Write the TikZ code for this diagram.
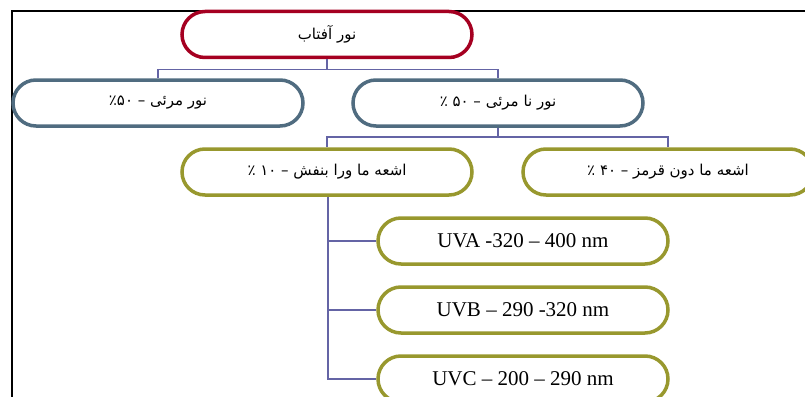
\documentclass[tikz,border=0pt]{standalone}
\usepackage{fontspec}
\setmainfont{Liberation Serif}
\newfontfamily\arabicfont[Script=Arabic]{DejaVu Sans}
\TeXXeTstate=1
\usetikzlibrary{calc}
\definecolor{sunred}{RGB}{165,0,33}
\definecolor{slate}{RGB}{80,108,128}
\definecolor{khaki}{RGB}{152,152,46}
\definecolor{linkblue}{RGB}{100,100,165}
\newcommand{\fa}[1]{\raisebox{-2pt}{\arabicfont\fontsize{15}{17}\selectfont\beginR #1\endR}}

\begin{document}
\begin{tikzpicture}[x=1pt,y=-1pt,inner sep=0pt,node distance=69pt,
  pill/.style={draw,line width=3.5pt,rounded corners=23pt,fill=white,minimum width=290pt,minimum height=46pt},
  link/.style={draw=linkblue,line width=1.5pt},
  uvtext/.style={font=\fontsize{21}{24}\selectfont}]
\useasboundingbox (0,0) rectangle (805,396);
\clip (0,0) rectangle (805,396);
\draw [line width=2pt] (12,420) -- (12,11) -- (830,11);
\draw node [pill,draw=sunred] (Sun) at (327,34.5) {\fa{نور آفتاب}};
\draw node [pill,draw=slate] (Vis) at (158,103) {\fa{نور  مرئی – ٪۵۰}};
\draw node [pill,draw=slate] (Invis) at (498,103) {\fa{نور نا مرئی – ۵۰ ٪}};
\draw node [pill,draw=khaki] (UV) at (327,172) {\fa{اشعه ما ورا بنفش – ۱۰ ٪}};
\draw node [pill,draw=khaki] (IR) at (668,172) {\fa{اشعه ما دون قرمز – ۴۰ ٪}};
\draw node [pill,draw=khaki,uvtext] (UVA) at (523,241) {UVA -320 – 400 nm};
\draw node [pill,draw=khaki,uvtext] [below of=UVA] (UVB) {UVB – 290 -320 nm};
\draw node [pill,draw=khaki,uvtext] [below of=UVB] (UVC) {UVC – 200 – 290 nm};
\draw [link] (Sun.south) -- ++(0,10) -| (Vis.north);
\draw [link] (Sun.south) -- ++(0,10) -| (Invis.north);
\draw [link] (Invis.south) -- ++(0,9) -| (UV.north);
\draw [link] (Invis.south) -- ++(0,9) -| (IR.north);
\draw [link] ($(UV.south)+(1,0)$) |- (UVA.west);
\draw [link] ($(UV.south)+(1,0)$) |- (UVB.west);
\draw [link] ($(UV.south)+(1,0)$) |- (UVC.west);
\end{tikzpicture}
\end{document}
